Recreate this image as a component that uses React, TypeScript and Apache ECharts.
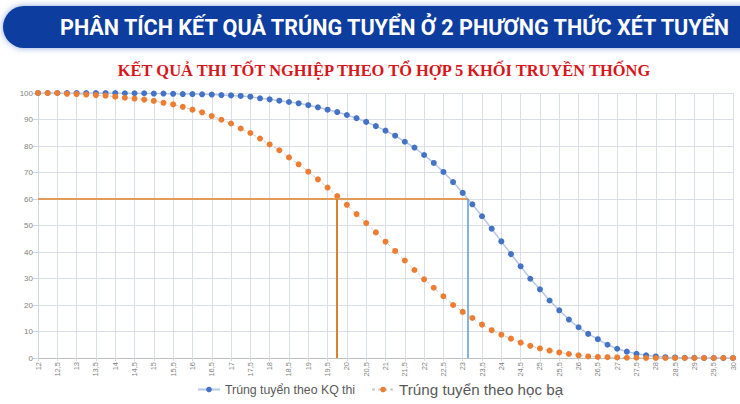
import React, { useEffect, useRef } from 'react';
import * as echarts from 'echarts';

// điểm xét tuyển (trục hoành), bước 0.25
const scores = [
  12, 12.25, 12.5, 12.75, 13, 13.25, 13.5, 13.75, 14, 14.25, 14.5, 14.75,
  15, 15.25, 15.5, 15.75, 16, 16.25, 16.5, 16.75, 17, 17.25, 17.5, 17.75,
  18, 18.25, 18.5, 18.75, 19, 19.25, 19.5, 19.75, 20, 20.25, 20.5, 20.75,
  21, 21.25, 21.5, 21.75, 22, 22.25, 22.5, 22.75, 23, 23.25, 23.5, 23.75,
  24, 24.25, 24.5, 24.75, 25, 25.25, 25.5, 25.75, 26, 26.25, 26.5, 26.75,
  27, 27.25, 27.5, 27.75, 28, 28.25, 28.5, 28.75, 29, 29.25, 29.5, 29.75, 30,
];

// % trúng tuyển theo KQ thi
const kqThi = [
  100, 100, 100, 100, 100, 100, 100, 100, 100, 99.9, 99.9, 99.9,
  99.8, 99.8, 99.7, 99.6, 99.6, 99.5, 99.4, 99.2, 99.1, 98.9, 98.6, 98.0,
  97.6, 97.1, 96.6, 96.1, 95.4, 94.6, 93.7, 92.8, 91.7, 90.5, 89.1, 87.5,
  85.8, 83.9, 81.6, 79.4, 76.6, 73.6, 70.2, 66.4, 62.3, 58.0, 53.5, 48.8,
  44.0, 39.2, 34.6, 29.9, 25.9, 21.7, 18.0, 14.5, 11.6, 9.1, 7.1, 5.0,
  3.5, 2.4, 1.6, 1.0, 0.6, 0.3, 0.2, 0.1, 0.1, 0, 0, 0, 0,
];

// % trúng tuyển theo học bạ
const hocBa = [
  100, 100, 100, 99.7, 99.6, 99.4, 99.2, 99.0, 98.6, 98.2, 97.9, 97.5,
  97.0, 96.3, 95.7, 94.8, 93.7, 92.7, 91.3, 89.9, 88.5, 86.6, 84.9, 82.8,
  80.6, 78.4, 75.7, 73.1, 70.3, 67.4, 64.3, 61.1, 57.8, 54.3, 50.9, 47.4,
  43.9, 40.4, 36.8, 33.2, 29.7, 26.5, 23.3, 20.0, 17.4, 15.1, 12.6, 10.5,
  8.8, 7.3, 5.8, 4.6, 3.6, 2.8, 2.1, 1.5, 1.0, 0.6, 0.4, 0.3,
  0.2, 0.1, 0.1, 0, 0, 0, 0, 0, 0, 0, 0, 0, 0,
];

// mốc 60% và điểm tương ứng
const cutoffPct = 60;
const hocBaCutoff = 19.75;
const kqThiCutoff = 23.14;

const App: React.FC = () => {
  const chartRef = useRef<HTMLDivElement>(null);

  useEffect(() => {
    if (!chartRef.current) return;
    const chart = echarts.init(chartRef.current, null, { renderer: 'svg' });

    const option = {
      animation: false,
      backgroundColor: '#fff',
      graphic: [
        {
          type: 'rect',
          shape: { x: 3, y: 6, width: 800, height: 42, r: [21, 0, 0, 21] },
          style: {
            fill: '#0b3c9e',
            shadowBlur: 6,
            shadowColor: 'rgba(40,90,190,0.55)',
          },
        },
        {
          type: 'text',
          x: 60,
          y: 27,
          style: {
            text: 'PHÂN TÍCH KẾT QUẢ TRÚNG TUYỂN Ở 2 PHƯƠNG THỨC XÉT TUYỂN',
            fill: '#fff',
            font: 'bold 21.6px Roboto',
            textVerticalAlign: 'middle',
          },
        },
        {
          type: 'text',
          x: 384,
          y: 70,
          scaleX: 0.94,
          style: {
            text: 'KẾT QUẢ THI TỐT NGHIỆP THEO TỔ HỢP 5 KHỐI TRUYỀN THỐNG',
            fill: '#d7161b',
            font: 'bold 17.5px "Liberation Serif"',
            textAlign: 'center',
            textVerticalAlign: 'middle',
          },
        },
      ],
      grid: {
        left: 38,
        right: 7,
        top: 93,
        bottom: 46,
        outerBoundsMode: 'none',
      },
      legend: {
        left: 192,
        top: 377,
        itemWidth: 22,
        itemHeight: 7,
        itemGap: 16,
        data: [
          {
            name: 'Trúng tuyển theo KQ thi',
            textStyle: { fontSize: 12.3, color: '#595959', fontFamily: 'Liberation Sans' },
          },
          {
            name: 'Trúng tuyển theo học bạ',
            textStyle: { fontSize: 15.2, color: '#595959', fontFamily: 'Liberation Sans' },
          },
        ],
      },
      xAxis: {
        type: 'value',
        min: 12,
        max: 30,
        interval: 0.5,
        axisLine: { show: true, lineStyle: { color: '#bfbfbf' } },
        axisTick: { show: true, length: 3, lineStyle: { color: '#d0d5e0' } },
        splitLine: { show: true, lineStyle: { color: '#d9dee8' } },
        axisLabel: {
          rotate: 90,
          margin: 4,
          fontSize: 7.5,
          color: '#7f7f7f',
          fontFamily: 'Liberation Sans',
          formatter: (v: number) => String(v).replace('.', ','),
        },
      },
      yAxis: {
        type: 'value',
        min: 0,
        max: 100,
        interval: 10,
        axisLine: { show: true, lineStyle: { color: '#d0d5e0' } },
        splitLine: { show: true, lineStyle: { color: '#d9dee8' } },
        axisLabel: {
          margin: 5,
          fontSize: 8,
          color: '#7f7f7f',
          fontFamily: 'Liberation Sans',
        },
      },
      series: [
        {
          name: 'Trúng tuyển theo KQ thi',
          type: 'line',
          data: scores.map((s, i) => [s, kqThi[i]]),
          symbol: 'circle',
          symbolSize: 6,
          itemStyle: { color: '#4472c4' },
          lineStyle: { color: '#b4c7e7', width: 1.5 },
          z: 3,
          markLine: {
            silent: true,
            symbol: 'none',
            label: { show: false },
            data: [
              [
                { coord: [12, cutoffPct], lineStyle: { color: '#e39b5a', width: 2, type: 'solid' } },
                { coord: [kqThiCutoff, cutoffPct] },
              ],
              [
                { coord: [hocBaCutoff, cutoffPct], lineStyle: { color: '#d9822b', width: 2, type: 'solid' } },
                { coord: [hocBaCutoff, 0] },
              ],
              [
                { coord: [kqThiCutoff, cutoffPct], lineStyle: { color: '#5b9bd5', width: 1.5, type: 'solid' } },
                { coord: [kqThiCutoff, 0] },
              ],
            ],
          },
        },
        {
          name: 'Trúng tuyển theo học bạ',
          type: 'line',
          data: scores.map((s, i) => [s, hocBa[i]]),
          symbol: 'circle',
          symbolSize: 6,
          itemStyle: { color: '#ed7d31' },
          lineStyle: { color: '#c9c9c9', width: 1, type: [3, 3] },
          z: 4,
        },
      ],
    };

    chart.setOption(option);
    return () => chart.dispose();
  }, []);

  return (
    <div
      ref={chartRef}
      style={{ position: 'fixed', left: 0, top: 0, width: 740, height: 404 }}
    />
  );
};

export default App;
